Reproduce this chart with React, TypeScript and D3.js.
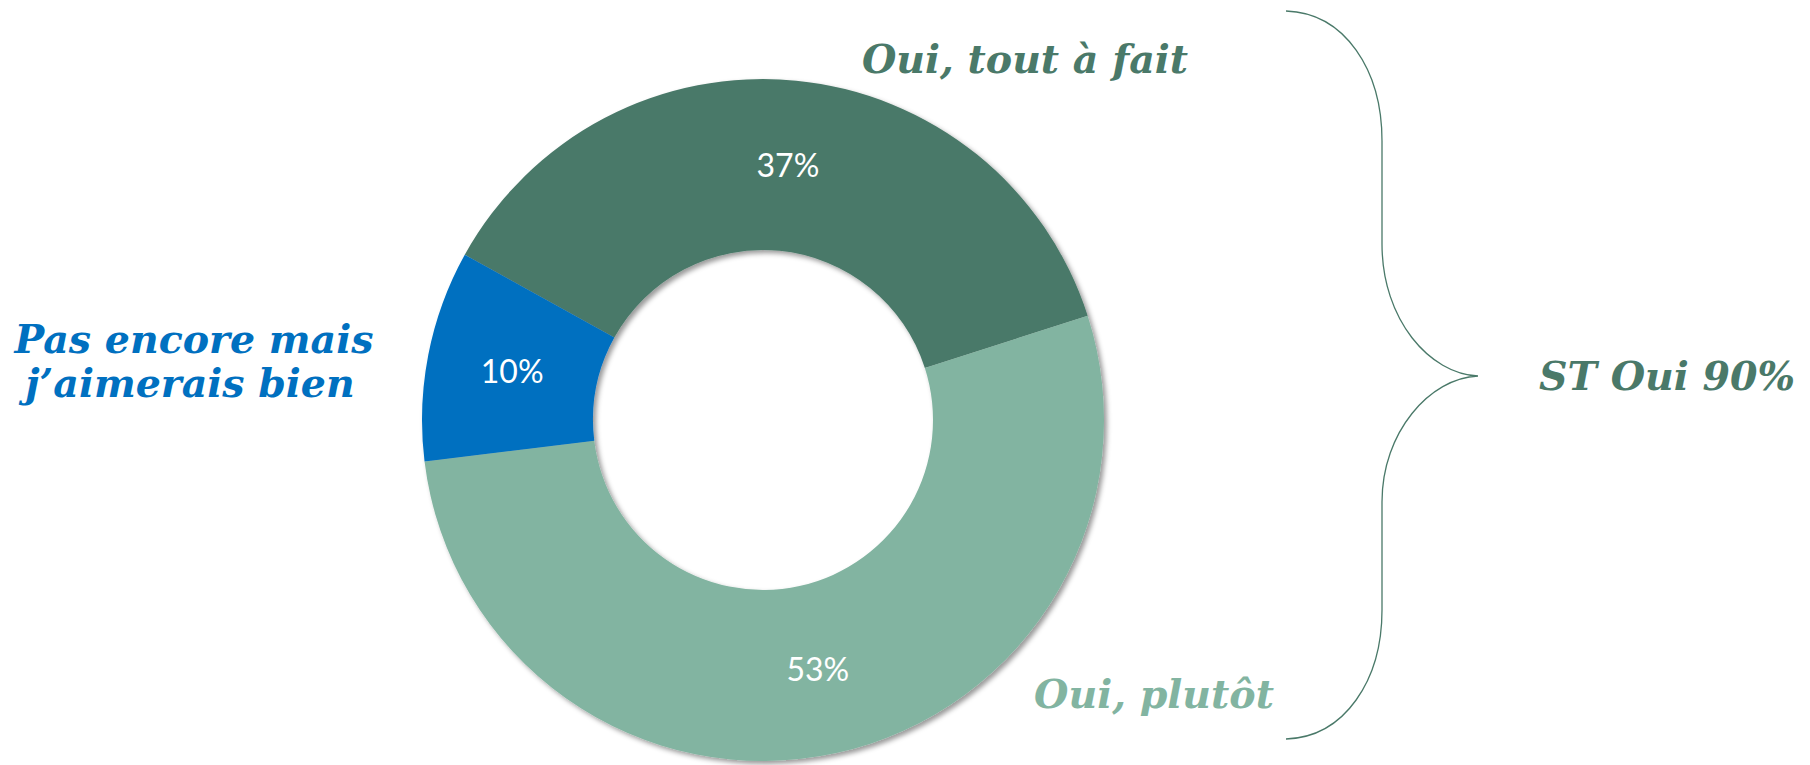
import React from "react";
import * as d3 from "d3";

const categories = ["Oui, tout à fait", "Oui, plutôt", "Pas encore mais j’aimerais bien"];
const values = [37, 53, 10];
const valueLabels = ["37%", "53%", "10%"];
const colors = ["#4A7969", "#82B4A1", "#0070C0"];
const totalLabel = "ST Oui 90%";

const W = 1810;
const H = 765;
const cx = 763;
const cy = 420;
const outerR = 341;
const innerR = 170;
const startDeg = -61;

export default function App() {
  const pie = d3
    .pie<number>()
    .sort(null)
    .value((d) => d)
    .startAngle((startDeg * Math.PI) / 180)
    .endAngle((startDeg * Math.PI) / 180 + 2 * Math.PI);
  const arcs = pie(values);
  const arc = d3.arc<d3.PieArcDatum<number>>().innerRadius(innerR).outerRadius(outerR);
  const labelArc = d3
    .arc<d3.PieArcDatum<number>>()
    .innerRadius((innerR + outerR) / 2)
    .outerRadius((innerR + outerR) / 2);

  const serif = "'DejaVu Serif', 'Liberation Serif', serif";
  const catStyle = { fontFamily: serif, fontWeight: 700, fontStyle: "italic", fontSize: 39.5 } as const;

  const brace =
    "M1286,11 C1345,13 1382,70 1382,141 L1382,244 C1382,320 1430,374 1478,376 " +
    "C1430,378 1382,432 1382,502 L1382,610 C1382,680 1345,737 1286,739";

  return (
    <svg
      width={W}
      height={H}
      style={{ position: "absolute", left: 0, top: 0, display: "block", background: "#fff" }}
    >
      <defs>
        <filter id="shadow" x="-20%" y="-20%" width="140%" height="140%">
          <feDropShadow dx="3" dy="3" stdDeviation="2.5" floodColor="#000" floodOpacity="0.4" />
        </filter>
      </defs>
      <g transform={`translate(${cx},${cy})`} filter="url(#shadow)">
        {arcs.map((a, i) => (
          <path key={i} d={arc(a) || ""} fill={colors[i]} />
        ))}
      </g>
      <g transform={`translate(${cx},${cy})`}>
        {arcs.map((a, i) => {
          const [x, y] = labelArc.centroid(a);
          return (
            <text
              key={i}
              x={x}
              y={y}
              dy="0.36em"
              textAnchor="middle"
              fill="#fff"
              style={{ fontFamily: "Lato, 'Open Sans', sans-serif", fontSize: 32 }}
            >
              {valueLabels[i]}
            </text>
          );
        })}
      </g>
      <text x={1025} y={73} textAnchor="middle" fill={colors[0]} style={catStyle}>
        {categories[0]}
      </text>
      <text x={1154} y={708} textAnchor="middle" fill={colors[1]} style={catStyle}>
        {categories[1]}
      </text>
      <text x={193} y={353} textAnchor="middle" fill={colors[2]} style={catStyle}>
        <tspan x={194}>Pas encore mais</tspan>
        <tspan x={190} y={397}>
          j’aimerais bien
        </tspan>
      </text>
      <path d={brace} fill="none" stroke={colors[0]} strokeWidth={1.3} />
      <text x={1667} y={390} textAnchor="middle" fill={colors[0]} style={catStyle}>
        {totalLabel}
      </text>
    </svg>
  );
}
